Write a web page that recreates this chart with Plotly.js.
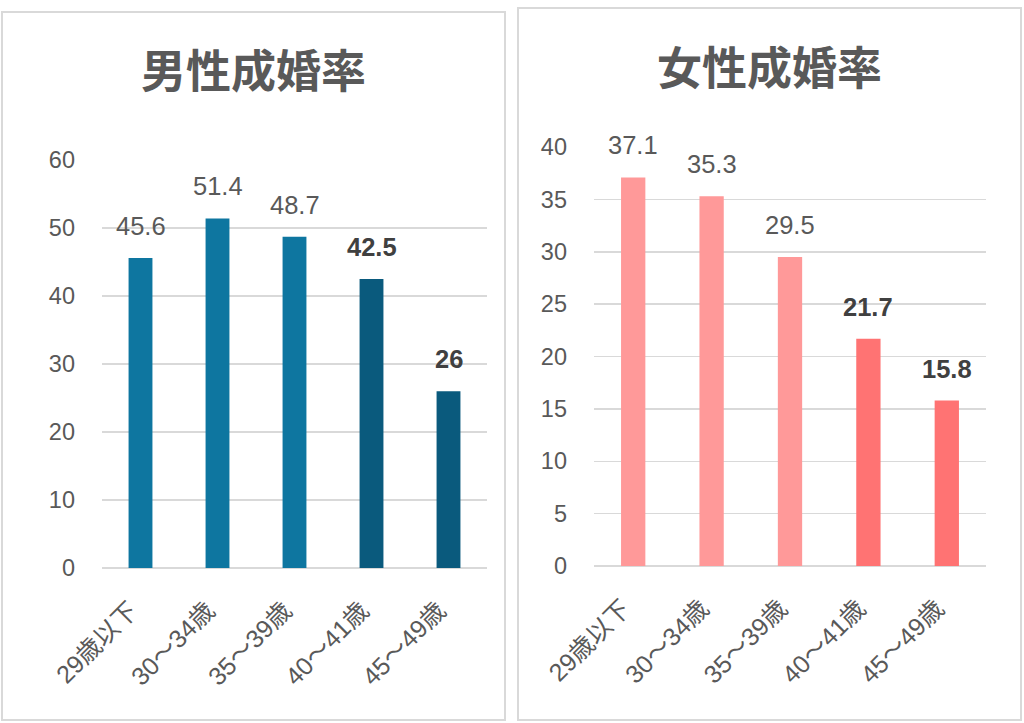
<!DOCTYPE html>
<html>
<head>
<meta charset="utf-8">
<script src="https://cdn.plot.ly/plotly-3.0.1.min.js"></script>
<style>
  html, body { margin:0; padding:0; background:#ffffff; width:1024px; height:723px; overflow:hidden; }
  .panel { position:absolute; box-sizing:border-box; border:2px solid #d9d9d9; background:#fff; }
  .panel > div { width:100%; height:100%; }
</style>
</head>
<body>
<div class="panel" id="wrapL" style="left:1px; top:11px; width:505px; height:710px;"><div id="chartL"></div></div>
<div class="panel" id="wrapR" style="left:517px; top:7px; width:505px; height:714px;"><div id="chartR"></div></div>
<script>
// ---- data ----
const categories = ["29歳以下", "30～34歳", "35～39歳", "40～41歳", "45～49歳"];
const maleValues = [45.6, 51.4, 48.7, 42.5, 26];
const femaleValues = [37.1, 35.3, 29.5, 21.7, 15.8];
const maleTitle = "男性成婚率";
const femaleTitle = "女性成婚率";
const highlighted = [false, false, false, true, true];

// ---- styles ----
const FONT = "Liberation Sans, Arial, 'Noto Sans CJK JP', sans-serif";
const CJK = "'Noto Sans CJK JP', 'Liberation Sans', sans-serif";
const GRAY = "#595959";

function makeChart(id, title, values, baseColor, hiColor, yMax, dtick, margin, titleY) {
  const colors = highlighted.map(h => h ? hiColor : baseColor);
  const trace = {
    type: 'bar',
    x: categories,
    y: values,
    width: 0.31,
    marker: { color: colors, line: { width: 0 } },
    hoverinfo: 'skip'
  };
  const annotations = values.map((v, i) => ({
    x: categories[i], y: v, xref: 'x', yref: 'y',
    text: highlighted[i] ? '<b>' + String(v) + '</b>' : String(v),
    showarrow: false, yanchor: 'bottom', yshift: 16,
    font: { family: FONT, size: 25.5, color: highlighted[i] ? '#404040' : GRAY }
  }));
  const layout = {
    margin: margin,
    paper_bgcolor: '#ffffff',
    plot_bgcolor: '#ffffff',
    showlegend: false,
    bargap: 0.69,
    title: {
      text: '<b>' + title + '</b>',
      x: 0.5, xanchor: 'center', xref: 'container',
      y: titleY, yanchor: 'middle', yref: 'container',
      font: { family: CJK, size: 45, color: GRAY }
    },
    xaxis: {
      type: 'category',
      tickangle: -45,
      tickfont: { family: FONT, size: 25, color: GRAY },
      ticklabelstandoff: 22,
      ticklabelshift: -10,
      showgrid: false, showline: false, zeroline: false,
      ticks: '', ticklen: 0, automargin: false
    },
    yaxis: {
      range: [0, yMax], dtick: dtick, tick0: 0,
      tickfont: { family: FONT, size: 23.5, color: GRAY },
      ticklabelstandoff: 26,
      showgrid: true, gridcolor: '#d9d9d9', gridwidth: 1.5,
      zeroline: true, zerolinecolor: '#d9d9d9', zerolinewidth: 2,
      showline: false, ticks: '', ticklen: 0, automargin: false
    },
    annotations: annotations
  };
  Plotly.newPlot(id, [trace], layout, { displayModeBar: false, staticPlot: true });
}

makeChart('chartL', maleTitle, maleValues, '#0E76A0', '#0A5A7D', 60, 10,
  { l: 99, r: 17, t: 147, b: 151, pad: 0 }, 0.916);
makeChart('chartR', femaleTitle, femaleValues, '#FF9999', '#FF7373', 40, 5,
  { l: 75, r: 34, t: 138, b: 153, pad: 0 }, 0.915);
</script>
</body>
</html>
